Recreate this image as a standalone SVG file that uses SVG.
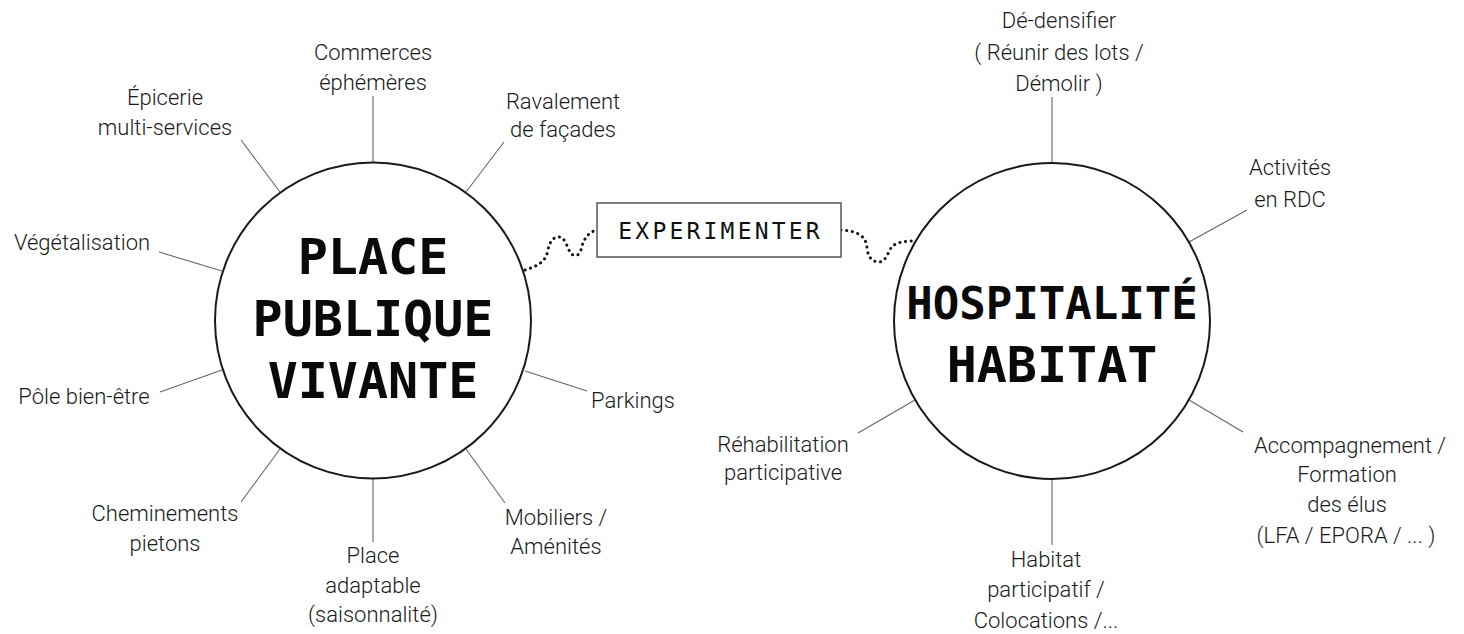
<svg xmlns="http://www.w3.org/2000/svg" width="1464" height="634" viewBox="0 0 1464 634">
<style>
.bg{fill:#fff}
.ring{fill:#fff;stroke:#1a1a1a;stroke-width:2}
.spoke{stroke:#666;stroke-width:1.1;fill:none}
.dots{fill:none;stroke:#111;stroke-width:3;stroke-dasharray:0.1 5.6;stroke-linecap:round}
.box{fill:#fff;stroke:#555;stroke-width:1.5}
.lbl{font-family:Roboto,"Liberation Sans",sans-serif;font-weight:300;font-size:22px;fill:#1a1a1a;text-anchor:middle}
.big{font-family:"DejaVu Sans Mono",monospace;font-weight:bold;font-size:50px;fill:#0a0a0a;text-anchor:middle}
.mid{font-family:"DejaVu Sans Mono",monospace;font-size:23px;fill:#111;text-anchor:middle;letter-spacing:3.2px}
</style>
<rect class="bg" x="0" y="0" width="1464" height="634"/>
<g id="connectors">
<line class="spoke" x1="373" y1="96" x2="373" y2="163"/>
<line class="spoke" x1="504" y1="142" x2="466" y2="192"/>
<line class="spoke" x1="241" y1="140" x2="280" y2="192"/>
<line class="spoke" x1="159" y1="252" x2="222" y2="271"/>
<line class="spoke" x1="160" y1="392" x2="222" y2="370"/>
<line class="spoke" x1="525" y1="371" x2="587" y2="391"/>
<line class="spoke" x1="241" y1="502" x2="280" y2="449"/>
<line class="spoke" x1="466" y1="449" x2="505" y2="503"/>
<line class="spoke" x1="373" y1="478" x2="373" y2="542"/>
<line class="spoke" x1="1052" y1="97" x2="1052" y2="163"/>
<line class="spoke" x1="1247" y1="210" x2="1189" y2="242"/>
<line class="spoke" x1="1189" y1="400" x2="1243" y2="432"/>
<line class="spoke" x1="1052" y1="479" x2="1052" y2="545"/>
<line class="spoke" x1="858" y1="433" x2="915" y2="400"/>
<path class="dots" d="M525,270 C541,265 546,260 548,250 C550,240 554,237 559,237 C565,237 567,247 570,252 C573,257 579,257 581,250 C583,240 588,232 597,230"/>
<path class="dots" d="M841,230 C858,231 866,236 867,248 C868,258 873,262 879,262 C886,262 888,252 891,248 C895,242 905,241 915,241"/>
</g>
<g id="place-publique-vivante">
<circle class="ring" cx="373" cy="320.5" r="158"/>
<text class="big" x="373" y="274">PLACE</text>
<text class="big" x="373" y="336">PUBLIQUE</text>
<text class="big" x="373" y="398">VIVANTE</text>
</g>
<g id="hospitalite-habitat">
<circle class="ring" cx="1052" cy="321" r="158"/>
<text class="big" x="1052" y="319" style="font-size:44px">HOSPITALITÉ</text>
<text class="big" x="1052" y="382">HABITAT</text>
</g>
<g id="experimenter">
<rect class="box" x="597" y="203" width="244" height="54"/>
<text class="mid" x="720.6" y="239">EXPERIMENTER</text>
</g>
<g id="commerces"><text class="lbl" x="373" y="60">Commerces</text><text class="lbl" x="373" y="90">éphémères</text></g>
<g id="ravalement"><text class="lbl" x="563" y="109">Ravalement</text><text class="lbl" x="563" y="137">de façades</text></g>
<g id="epicerie"><text class="lbl" x="165" y="105">Épicerie</text><text class="lbl" x="165" y="135">multi-services</text></g>
<g id="vegetalisation"><text class="lbl" x="82" y="250">Végétalisation</text></g>
<g id="pole"><text class="lbl" x="84" y="404">Pôle bien-être</text></g>
<g id="parkings"><text class="lbl" x="633" y="408">Parkings</text></g>
<g id="cheminements"><text class="lbl" x="165" y="521">Cheminements</text><text class="lbl" x="165" y="551">pietons</text></g>
<g id="mobiliers"><text class="lbl" x="556" y="525">Mobiliers /</text><text class="lbl" x="556" y="554">Aménités</text></g>
<g id="place-adaptable"><text class="lbl" x="373" y="563">Place</text><text class="lbl" x="373" y="593">adaptable</text><text class="lbl" x="373" y="622">(saisonnalité)</text></g>
<g id="de-densifier"><text class="lbl" x="1059" y="28">Dé-densifier</text><text class="lbl" x="1059" y="60">( Réunir des lots /</text><text class="lbl" x="1059" y="91">Démolir )</text></g>
<g id="activites"><text class="lbl" x="1290" y="175">Activités</text><text class="lbl" x="1290" y="207">en RDC</text></g>
<g id="accompagnement"><text class="lbl" x="1350" y="453">Accompagnement /</text><text class="lbl" x="1347" y="482">Formation</text><text class="lbl" x="1347" y="512">des élus</text><text class="lbl" x="1346" y="543">(LFA / EPORA / ... )</text></g>
<g id="habitat-participatif"><text class="lbl" x="1046" y="567">Habitat</text><text class="lbl" x="1046" y="597">participatif /</text><text class="lbl" x="1046" y="628">Colocations /...</text></g>
<g id="rehabilitation"><text class="lbl" x="783" y="452">Réhabilitation</text><text class="lbl" x="783" y="480">participative</text></g>
</svg>
